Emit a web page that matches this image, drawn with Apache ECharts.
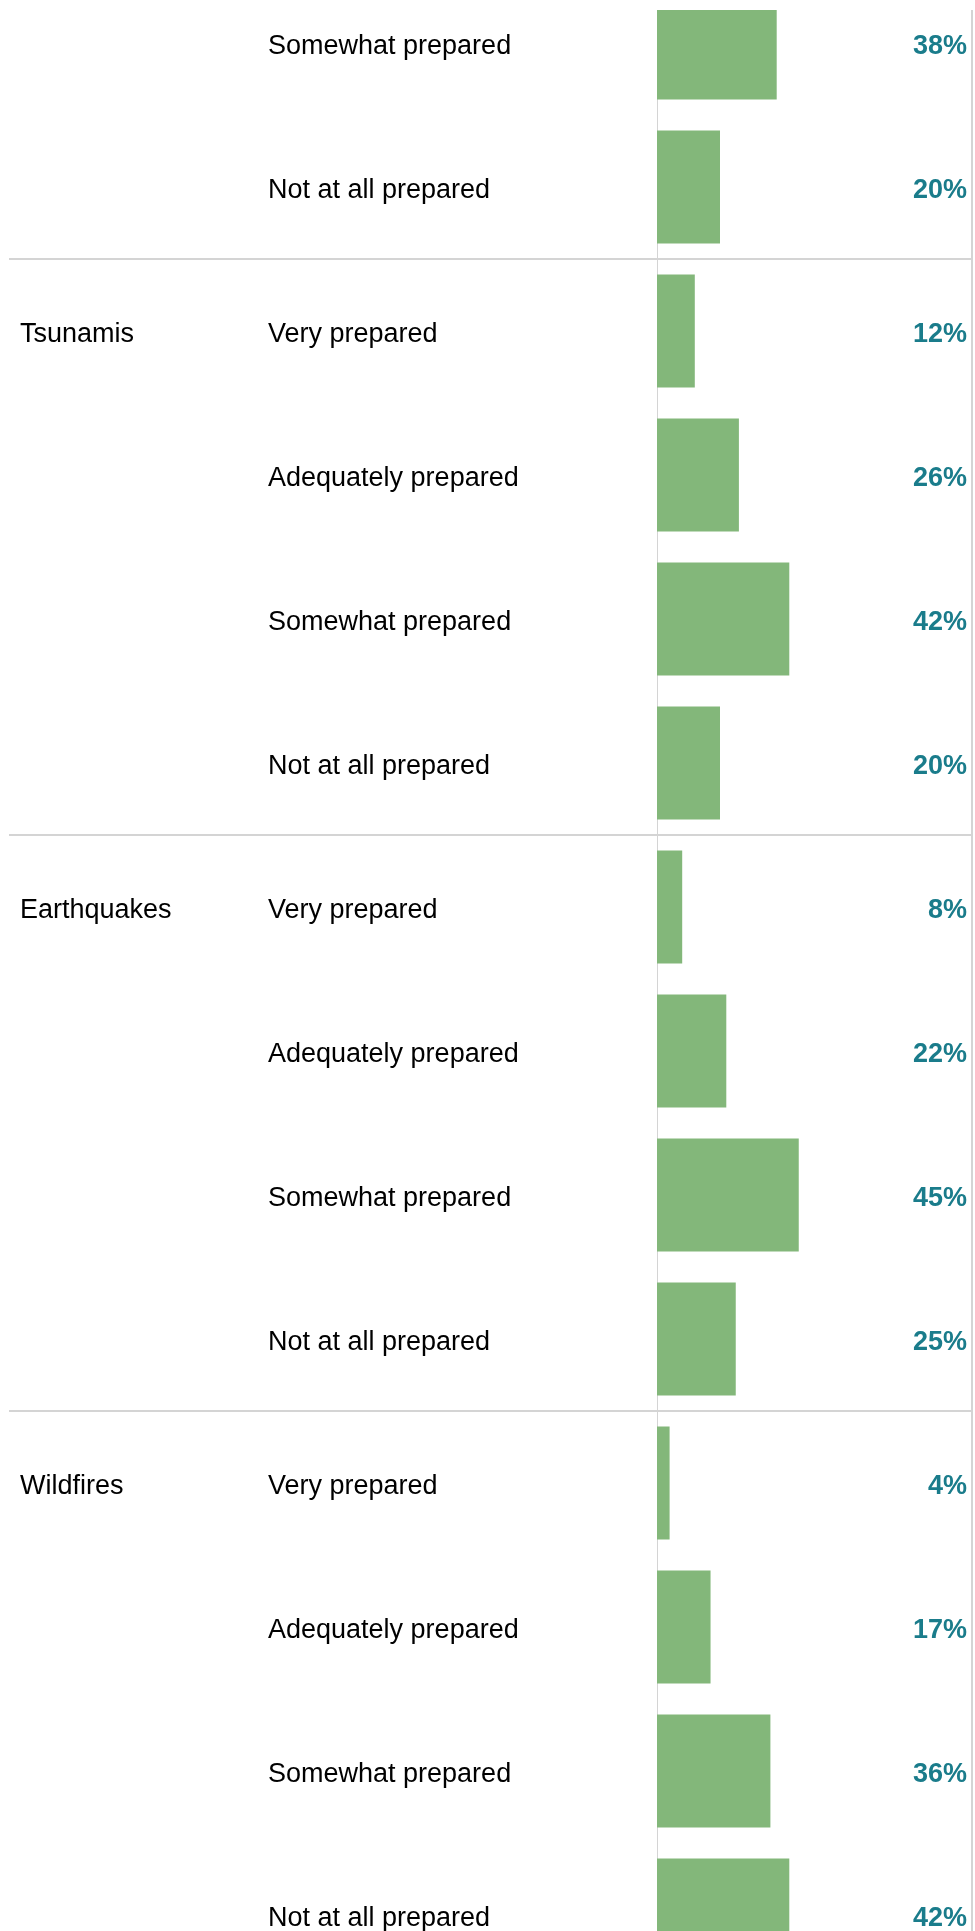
<!DOCTYPE html>
<html>
<head>
<meta charset="utf-8">
<script src="https://cdn.jsdelivr.net/npm/echarts@6/dist/echarts.min.js"></script>
<style>
  html, body { margin: 0; padding: 0; overflow: hidden; background: #fff; }
  /* the plot is a window onto a longer list: starts 10px down, first row cut */
  #frame { position: absolute; left: 0; top: 10px; width: 975px; height: 1921px; overflow: hidden; }
  #chart { position: absolute; left: 0; top: -39px; width: 975px; height: 2016px; }
</style>
</head>
<body>
<div id="frame"><div id="chart"></div></div>
<script>
// rows top to bottom (the first group is only partly visible)
const hazards = ['', '', 'Tsunamis', '', '', '', 'Earthquakes', '', '', '', 'Wildfires', '', '', ''];
const answers = [
  'Somewhat prepared', 'Not at all prepared',
  'Very prepared', 'Adequately prepared', 'Somewhat prepared', 'Not at all prepared',
  'Very prepared', 'Adequately prepared', 'Somewhat prepared', 'Not at all prepared',
  'Very prepared', 'Adequately prepared', 'Somewhat prepared', 'Not at all prepared',
];
const shares = [38, 20, 12, 26, 42, 20, 8, 22, 45, 25, 4, 17, 36, 42];

const FONT = 'Liberation Sans, Arial, sans-serif';
const GREEN = '#83B77A';
const TEAL = '#1A7C8B';
const RULE = '#D4D4D4';
// top-anchored with a short line box: text sits ~4px below the band centre, as in the source
const LABEL = { fontSize: 27, fontFamily: FONT, interval: 0, verticalAlign: 'top', lineHeight: 8 };

const c = echarts.init(document.getElementById('chart'), null, { renderer: 'canvas' });

c.setOption({
  animation: false,
  textStyle: { fontFamily: FONT },
  grid: [
    { left: 9, right: 3, top: 0, bottom: 0 },    // label columns + group rules
    { left: 657, right: 3, top: 0, bottom: 0 },  // bars
  ],
  xAxis: [
    { gridIndex: 0, type: 'value', show: false, min: 0, max: 100 },
    { gridIndex: 1, type: 'value', show: false, min: 0, max: 100 },
  ],
  yAxis: [
    {
      gridIndex: 0, type: 'category', position: 'left', data: hazards, inverse: true,
      axisLine: { show: false }, axisTick: { show: false },
      axisLabel: { ...LABEL, align: 'left', margin: -11, color: '#000' },
      splitLine: {
        show: true,
        interval: (i) => i > 0 && hazards[i] !== '',
        lineStyle: { color: RULE, width: 2 },
      },
    },
    {
      gridIndex: 0, type: 'category', position: 'left', data: answers, inverse: true,
      axisLine: { show: false }, axisTick: { show: false },
      axisLabel: { ...LABEL, align: 'left', margin: -259, color: '#000' },
    },
    {
      gridIndex: 1, type: 'category', position: 'left', data: answers, inverse: true,
      axisLine: { show: true, lineStyle: { color: RULE, width: 1 } },
      axisTick: { show: false }, axisLabel: { show: false },
    },
    {
      gridIndex: 1, type: 'category', position: 'right', inverse: true,
      data: shares.map(v => v + '%'),
      axisLine: { show: true, lineStyle: { color: RULE, width: 2 } },
      axisTick: { show: false },
      axisLabel: { ...LABEL, align: 'right', margin: -5, color: TEAL, fontWeight: 'bold' },
    },
  ],
  series: [{
    type: 'bar',
    xAxisIndex: 1, yAxisIndex: 2,
    data: shares,
    barCategoryGap: '21.5%',
    itemStyle: { color: GREEN },
  }],
});
</script>
</body>
</html>
